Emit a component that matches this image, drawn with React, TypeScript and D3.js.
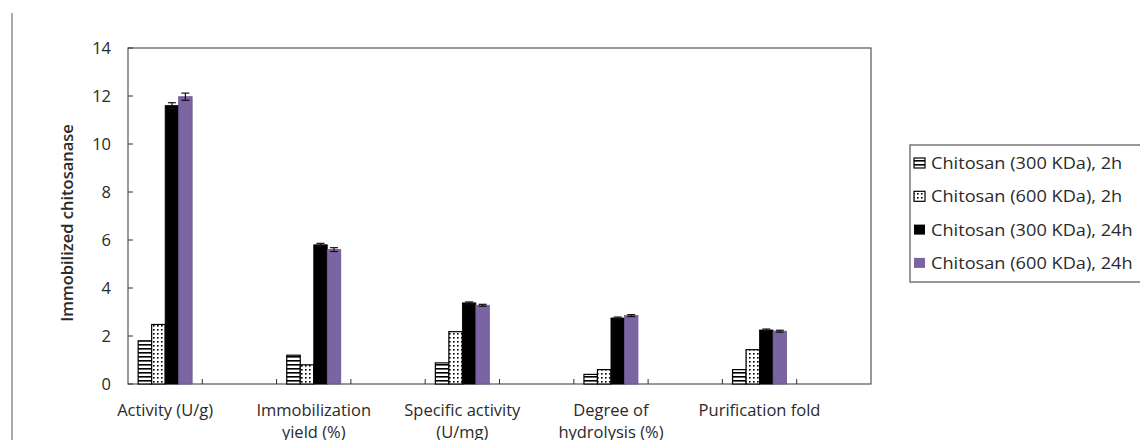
import React from "react";
import * as d3 from "d3";

const categories = [
  ["Activity (U/g)"],
  ["Immobilization", "yield (%)"],
  ["Specific activity", "(U/mg)"],
  ["Degree of", "hydrolysis (%)"],
  ["Purification fold"],
];
const seriesNames = [
  "Chitosan (300 KDa), 2h",
  "Chitosan (600 KDa), 2h",
  "Chitosan (300 KDa), 24h",
  "Chitosan (600 KDa), 24h",
];
const s300_2h = [1.8, 1.2, 0.88, 0.4, 0.6];
const s600_2h = [2.48, 0.8, 2.18, 0.6, 1.43];
const s300_24h = [11.6, 5.8, 3.38, 2.75, 2.25];
const s600_24h = [11.97, 5.6, 3.28, 2.85, 2.2];
const errors24h300 = [0.12, 0.06, 0.04, 0.04, 0.04];
const errors24h600 = [0.15, 0.08, 0.04, 0.04, 0.04];
const yTicks = [0, 2, 4, 6, 8, 10, 12, 14];

const series = [s300_2h, s600_2h, s300_24h, s600_24h];
const errs = [null, null, errors24h300, errors24h600];
const fills = ["url(#stripes)", "url(#dots)", "#000000", "#7B64A2"];

export default function App() {
  const left = 128, right = 871, top = 48, bottom = 384;
  const y = d3.scaleLinear().domain([0, 14]).range([bottom, top]);
  const slots = d3.range(10).map(String);
  const x = d3.scaleBand().domain(slots).range([left, right]).padding(0);
  const bw = x.bandwidth();
  const groupW = 54;
  const barW = groupW / 4;
  const font = "'Open Sans', sans-serif";
  const txt = "#2a2a2a";
  return (
    <svg width={1140} height={440} style={{ display: "block", position: "absolute", left: 0, top: 0 }}>
      <defs>
        <pattern id="stripes" width={4} height={4} patternUnits="userSpaceOnUse">
          <rect width={4} height={4} fill="#fff" />
          <rect y={0} width={4} height={1.6} fill="#000" />
        </pattern>
        <pattern id="dots" width={4} height={4} patternUnits="userSpaceOnUse">
          <rect width={4} height={4} fill="#fff" />
          <rect x={1} y={1} width={1.6} height={1.6} fill="#000" />
        </pattern>
      </defs>
      <line x1={12} x2={12} y1={13} y2={440} stroke="#aaa" strokeWidth={2} />
      <rect x={left} y={top} width={right - left} height={bottom - top} fill="none" stroke="#555" strokeWidth={1.2} />
      {yTicks.map((t) => (
        <g key={t}>
          <line x1={left} x2={left + 5} y1={y(t)} y2={y(t)} stroke="#333" />
          <text x={111} y={y(t) + 6} textAnchor="end" fontFamily={font} fontSize={16.5} fill={txt}>
            {t}
          </text>
        </g>
      ))}
      {slots.slice(1).map((s) => (
        <line key={s} x1={x(s)!} x2={x(s)!} y1={bottom} y2={bottom - 5} stroke="#333" />
      ))}
      <text
        transform={`translate(73,${223}) rotate(-90)`}
        textAnchor="middle"
        fontFamily={font}
        fontSize={16.5}
        fontWeight={600}
        fill={txt}
      >
        Immobilized chitosanase
      </text>
      {categories.map((lines, i) => {
        const sx = x(String(i * 2))!;
        const cx = sx + bw / 2;
        return (
          <g key={i}>
            {series.map((vals, j) => {
              const bx = sx + (bw - groupW) / 2 + j * barW;
              const v = vals[i];
              const e = errs[j];
              return (
                <g key={j}>
                  <rect
                    x={bx}
                    y={y(v)}
                    width={barW}
                    height={bottom - y(v)}
                    fill={fills[j]}
                    stroke={j === 3 ? "#6a5590" : "#000"}
                    strokeWidth={j < 2 ? 1.2 : 0.8}
                  />
                  {e && (
                    <g stroke="#111" strokeWidth={1.2}>
                      <line x1={bx + barW / 2} x2={bx + barW / 2} y1={y(v + e[i])} y2={y(v - e[i])} />
                      <line x1={bx + barW / 2 - 4} x2={bx + barW / 2 + 4} y1={y(v + e[i])} y2={y(v + e[i])} />
                      <line x1={bx + barW / 2 - 4} x2={bx + barW / 2 + 4} y1={y(v - e[i])} y2={y(v - e[i])} />
                    </g>
                  )}
                </g>
              );
            })}
            {lines.map((l, k) => (
              <text key={k} x={cx} y={416 + k * 22} textAnchor="middle" fontFamily={font} fontSize={16.5} fill={txt}>
                {l}
              </text>
            ))}
          </g>
        );
      })}
      <rect x={910} y={145} width={260} height={137} fill="#fff" stroke="#777" strokeWidth={1.5} />
      {seriesNames.map((n, j) => {
        const cy = 163 + j * 33.3;
        return (
          <g key={j}>
            <rect x={914} y={cy - 5} width={11} height={10} fill={fills[j]} stroke={j === 3 ? "#7B64A2" : "#000"} strokeWidth={j < 2 ? 1.2 : 0} />
            <text transform={`translate(931,${cy + 6}) scale(1.07,1)`} fontFamily={font} fontSize={17} fill={txt}>
              {n}
            </text>
          </g>
        );
      })}
    </svg>
  );
}
